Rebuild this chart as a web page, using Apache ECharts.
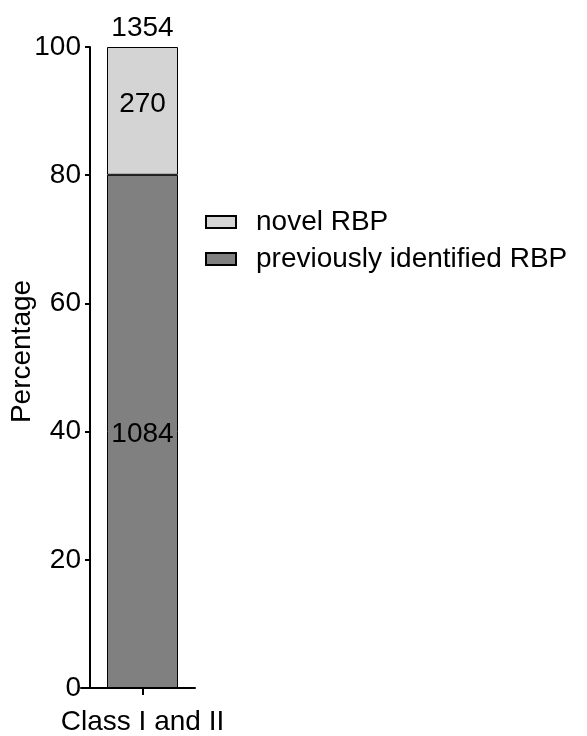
<!DOCTYPE html>
<html>
<head>
<meta charset="utf-8">
<script src="https://cdn.jsdelivr.net/npm/echarts@6/dist/echarts.min.js"></script>
<style>html,body{margin:0;padding:0;background:#fff;}#c{width:587px;height:736px;}</style>
</head>
<body>
<div id="c"></div>
<script>
const categories = ["Class I and II"];
const seriesNames = ["previously identified RBP", "novel RBP"];
const previousCounts = [1084];
const novelCounts = [270];
const totals = [1354];
const yTicks = [0, 20, 40, 60, 80, 100];

const pct = (arr) => arr.map((v, i) => v / totals[i] * 100);
const font = "'Liberation Sans', Arial, sans-serif";

const chart = echarts.init(document.getElementById('c'), null, {renderer: 'canvas'});
chart.setOption({
  animation: false,
  backgroundColor: '#fff',
  textStyle: {fontFamily: font},
  grid: [
    {left: 90, width: 105, top: 47, bottom: 48, containLabel: false},
    {left: 81, width: 9, top: 47, bottom: 48, containLabel: false}
  ],
  legend: {
    orient: 'vertical',
    left: 200, top: 203,
    icon: 'rect',
    itemWidth: 30, itemHeight: 12, itemGap: 9,
    data: [seriesNames[1], seriesNames[0]],
    textStyle: {fontSize: 28, color: '#000', fontFamily: font, lineHeight: 28, padding: [0, 0, 0, 15]}
  },
  xAxis: [
    {
      type: 'category', gridIndex: 0, data: categories,
      axisLine: {lineStyle: {color: '#000', width: 2}},
      axisTick: {show: true, alignWithLabel: true, interval: 0, length: 7, lineStyle: {color: '#000', width: 2}},
      axisLabel: {fontSize: 28, color: '#000', margin: 20, fontFamily: font}
    },
    {
      type: 'value', gridIndex: 1,
      axisLine: {show: true, onZero: false, lineStyle: {color: '#000', width: 2}},
      axisTick: {show: false}, axisLabel: {show: false}, splitLine: {show: false}
    }
  ],
  yAxis: [
    {
      type: 'value', gridIndex: 0, min: yTicks[0], max: yTicks[yTicks.length - 1], interval: 20,
      name: 'Percentage', nameLocation: 'middle', nameGap: 54, nameRotate: 90, nameMoveOverlap: false,
      nameTextStyle: {fontSize: 28, color: '#000', fontFamily: font, padding: [0, 0, 0, 32]},
      axisLine: {show: true, lineStyle: {color: '#000', width: 2}},
      axisTick: {show: true, length: 5, lineStyle: {color: '#000', width: 2}},
      axisLabel: {fontSize: 28, color: '#000', margin: 9, fontFamily: font},
      splitLine: {show: false}
    },
    {type: 'value', gridIndex: 1, show: false}
  ],
  series: [
    {
      name: seriesNames[0], type: 'bar', stack: 's', xAxisIndex: 0, yAxisIndex: 0,
      data: pct(previousCounts), barWidth: 71,
      itemStyle: {color: '#808080', borderColor: '#000', borderWidth: 1},
      label: {show: true, position: 'inside', offset: [0, 3], fontSize: 28, color: '#000', fontFamily: font,
        formatter: (p) => String(previousCounts[p.dataIndex])}
    },
    {
      name: seriesNames[1], type: 'bar', stack: 's', xAxisIndex: 0, yAxisIndex: 0,
      data: pct(novelCounts), barWidth: 71,
      itemStyle: {color: '#d4d4d4', borderColor: '#000', borderWidth: 1},
      label: {show: true, position: 'inside', offset: [0, -7], fontSize: 28, color: '#000', fontFamily: font,
        formatter: (p) => String(novelCounts[p.dataIndex])}
    },
    {
      name: 'total', type: 'bar', stack: 's', xAxisIndex: 0, yAxisIndex: 0,
      data: totals.map(() => 0), barWidth: 71,
      itemStyle: {color: 'transparent', borderWidth: 0},
      label: {show: true, position: 'top', distance: 5, fontSize: 28, color: '#000', fontFamily: font,
        formatter: (p) => String(totals[p.dataIndex])}
    }
  ]
});
</script>
</body>
</html>
